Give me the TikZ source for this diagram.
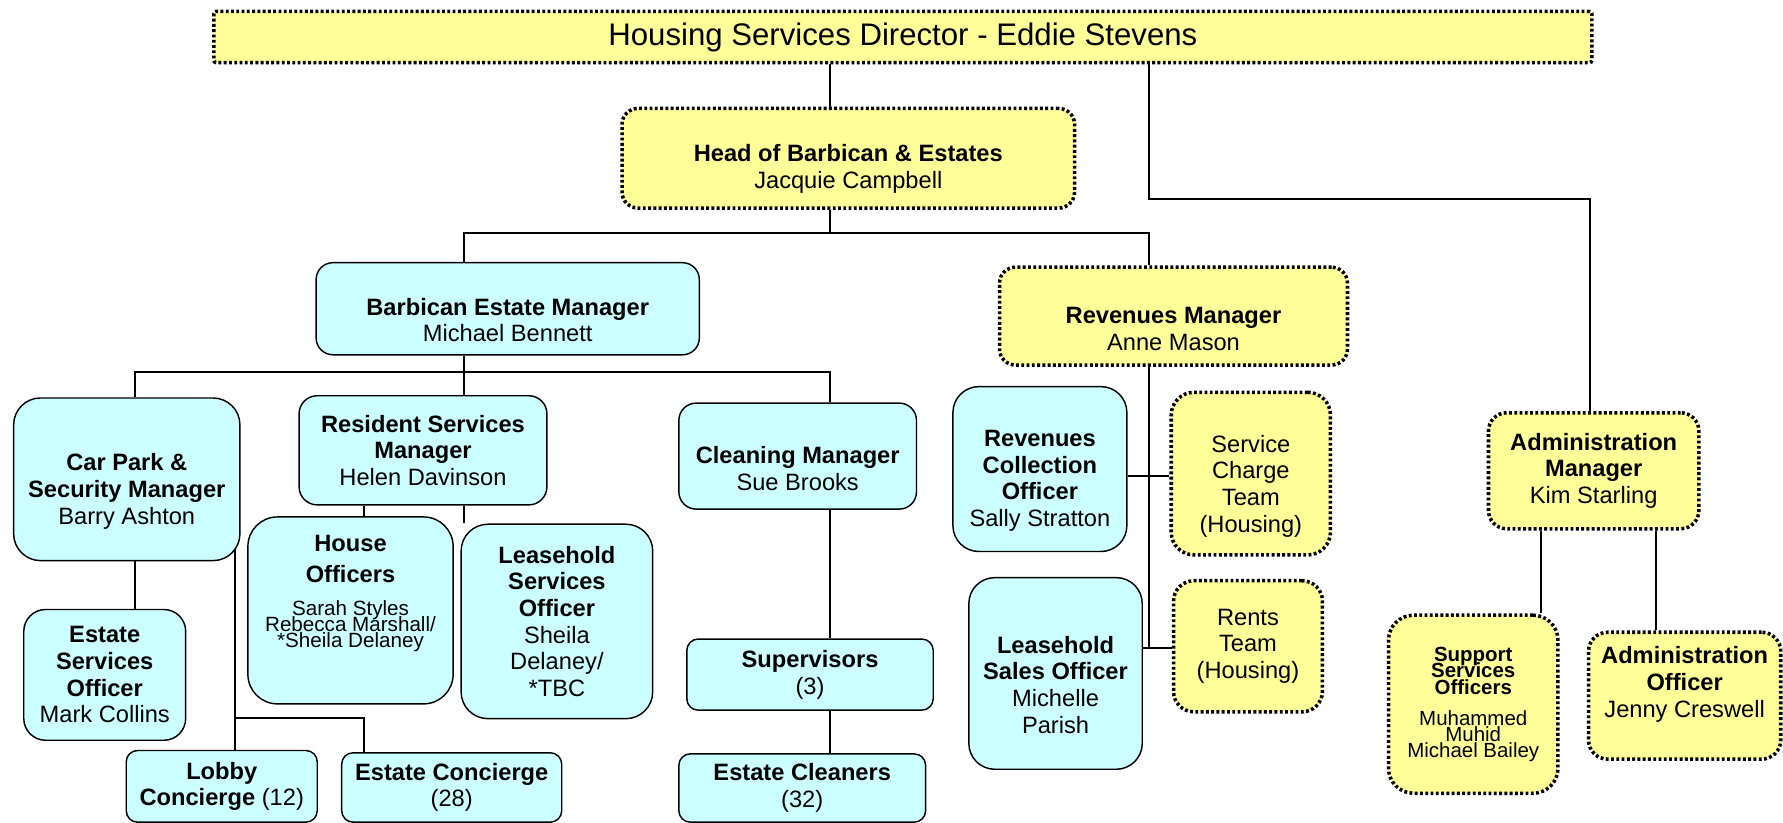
\documentclass[tikz,border=0pt]{standalone}
\usepackage{fontspec}
\setmainfont{Liberation Sans}
\usetikzlibrary{backgrounds}
\definecolor{staffcyan}{HTML}{CCFFFF}
\definecolor{teamyellow}{HTML}{FFFF99}
\newcommand{\basesize}{\fontsize{14.8}{16.7}\selectfont}
\newcommand{\titlesize}{\fontsize{19.5}{22}\selectfont}
\newcommand{\namesize}{\fontsize{12.9}{16.7}\selectfont}
\newcommand{\smallsize}{\fontsize{12.8}{16.7}\selectfont}
\tikzset{staff/.style={rectangle,rounded corners=#1,draw=black,fill=staffcyan,line width=0.9pt,align=center,inner sep=0pt,font=\basesize},staff/.default=4mm}
\tikzset{team/.style={rectangle,rounded corners=#1,draw=black,fill=teamyellow,line width=2.2pt,dash pattern=on 1.8pt off 1.5pt,align=center,inner sep=0pt,font=\basesize},team/.default=4mm}
\tikzset{boxsize/.style 2 args={minimum width=#1,minimum height=#2}}
\tikzset{link/.style={line width=1.25pt}}

\begin{document}
\begin{tikzpicture}
\useasboundingbox (0,0) rectangle (39.2,-18.094);
\node (title) [team=0.5mm, boxsize={30.3cm}{1.125cm}, font=\titlesize] at (19.85,-0.8125) {Housing Services Director - Eddie Stevens};
\node (head) [team=3.5mm, boxsize={9.95cm}{2.19cm}] at (18.65,-3.479) {\mbox{}\\[7.5pt]\textbf{Head of Barbican \& Estates}\\Jacquie Campbell};
\node (bem) [staff=3.7mm, boxsize={8.425cm}{2.025cm}] at (11.1625,-6.7875) {\mbox{}\\[8.2pt]\textbf{Barbican Estate Manager}\\Michael Bennett};
\node (rev) [team=3.5mm, boxsize={7.65cm}{2.15cm}] at (25.8,-6.95) {\mbox{}\\[9.6pt]\textbf{Revenues Manager}\\Anne Mason};
\node (carpark) [staff=5.9mm, boxsize={4.975cm}{3.575cm}] at (2.7875,-10.5375) {\mbox{}\\[8.9pt]\textbf{Car Park \&}\\\textbf{Security Manager}\\Barry Ashton};
\node (rsm) [staff=4mm, boxsize={5.45cm}{2.4cm}] at (9.3,-9.9) {\textbf{Resident Services}\\\textbf{Manager}\\Helen Davinson};
\node (clean) [staff=3.8mm, boxsize={5.225cm}{2.33cm}] at (17.5375,-10.0275) {\mbox{}\\[9.6pt]\textbf{Cleaning Manager}\\Sue Brooks};
\node (house) [staff=6.5mm, boxsize={4.5125cm}{4.11cm}] at (7.70625,-13.42) {\textbf{House}\\[2.5pt]\textbf{Officers}\\[3.8pt]{\namesize Sarah Styles}\\[-6.7pt]{\namesize Rebecca Marshall/}\\[-6.7pt]{\namesize *Sheila Delaney}\\[7.4pt]\mbox{}};
\node (lso) [staff=5.9mm, boxsize={4.2125cm}{4.275cm}] at (12.24375,-13.6625) {\textbf{Leasehold}\\\textbf{Services}\\\textbf{Officer}\\Sheila\\Delaney/\\*TBC};
\node (eso) [staff=4.8mm, boxsize={3.56cm}{2.875cm}] at (2.3025,-14.8375) {\textbf{Estate}\\\textbf{Services}\\\textbf{Officer}\\Mark Collins};
\node (lobby) [staff=2.5mm, boxsize={4.2cm}{1.575cm}] at (4.875,-17.2875) {\textbf{Lobby}\\\textbf{Concierge} (12)};
\node (econc) [staff=2.5mm, boxsize={4.8375cm}{1.525cm}] at (9.93125,-17.3125) {\textbf{Estate Concierge}\\(28)};
\node (sup) [staff=2.5mm, boxsize={5.4175cm}{1.5625cm}] at (17.80875,-14.83125) {\textbf{Supervisors}\\(3)};
\node (cleaners) [staff=2.5mm, boxsize={5.425cm}{1.5cm}] at (17.6375,-17.325) {\textbf{Estate Cleaners}\\(32)};
\node (rco) [staff=5.7mm, boxsize={3.825cm}{3.625cm}] at (22.8625,-10.3125) {\mbox{}\\[8.2pt]\textbf{Revenues}\\\textbf{Collection}\\\textbf{Officer}\\Sally Stratton};
\node (sct) [team=5mm, boxsize={3.5cm}{3.575cm}] at (27.5,-10.4125) {\mbox{}\\[9.5pt]Service\\Charge\\Team\\(Housing)};
\node (lsale) [staff=5.7mm, boxsize={3.8125cm}{4.2125cm}] at (23.20625,-14.806) {\mbox{}\\[8.2pt]\textbf{Leasehold}\\\textbf{Sales Officer}\\Michelle\\Parish};
\node (rents) [team=4.5mm, boxsize={3.275cm}{2.8825cm}] at (27.4375,-14.20875) {Rents\\Team\\(Housing)};
\node (adm) [team=4mm, boxsize={4.625cm}{2.55cm}] at (35.0375,-10.35) {\textbf{Administration}\\\textbf{Manager}\\Kim Starling};
\node (sso) [team=5.5mm, boxsize={3.725cm}{3.915cm}, font=\smallsize] at (32.39,-15.4825) {\textbf{Support}\\[-6.4pt]\textbf{Services}\\[-6.4pt]\textbf{Officers}\\[2.9pt]Muhammed\\[-6.7pt]Muhid\\[-6.7pt]Michael Bailey};
\node (ao) [team=4.2mm, boxsize={4.225cm}{2.79cm}] at (37.0375,-15.295) {\textbf{Administration}\\\textbf{Officer}\\Jenny Creswell\\[0.6pt]\mbox{}};

\coordinate (xa) at (18.25,0);
\coordinate (xb) at (25.265,0);
\coordinate (xc) at (10.195,0);
\coordinate (xd) at (2.97,0);
\coordinate (xg) at (8.0,0);
\coordinate (xh) at (5.1675,0);
\coordinate (xi) at (33.875,0);
\coordinate (xj) at (36.415,0);
\coordinate (xk) at (34.96,0);
\coordinate (admbus) at (0,-4.375);
\coordinate (headbus) at (0,-5.125);
\coordinate (estbus) at (0,-8.175);
\coordinate (lobbybus) at (0,-15.7875);
\coordinate (rcobus) at (0,-10.4675);
\coordinate (salebus) at (0,-14.25);

\begin{scope}[on background layer]
\draw[link] (title.south -| xa) -- (head.north -| xa);
\draw[link] (title.south -| xb) |- (xk |- admbus) -- (adm.north -| xk);
\draw[link] (head.south -| xa) -- (xa |- headbus);
\draw[link] (bem.north -| xc) |- (xb |- headbus) -- (rev.north -| xb);
\draw[link] (bem.south -| xc) -- (rsm.north -| xc);
\draw[link] (carpark.north -| xd) |- (xa |- estbus) -- (clean.north -| xa);
\draw[link] (rsm.south -| xg) -- (house.north -| xg);
\draw[link] (rsm.south -| xc) -- (lso.north -| xc);
\draw[link] (carpark.south -| xd) -- (eso.north -| xd);
\draw[link] (carpark.center -| xh) -- (lobby.north -| xh);
\draw[link] (xh |- lobbybus) -| (econc.north -| xg);
\draw[link] (clean.south -| xa) -- (sup.north -| xa);
\draw[link] (sup.south -| xa) -- (cleaners.north -| xa);
\draw[link] (rev.south -| xb) -- (xb |- salebus);
\draw[link] (rco.east |- rcobus) -- (sct.west |- rcobus);
\draw[link] (lsale.east |- salebus) -- (rents.west |- salebus);
\draw[link] (adm.south -| xi) -- (sso.north -| xi);
\draw[link] (adm.south -| xj) -- (ao.north -| xj);
\end{scope}
\end{tikzpicture}
\end{document}
